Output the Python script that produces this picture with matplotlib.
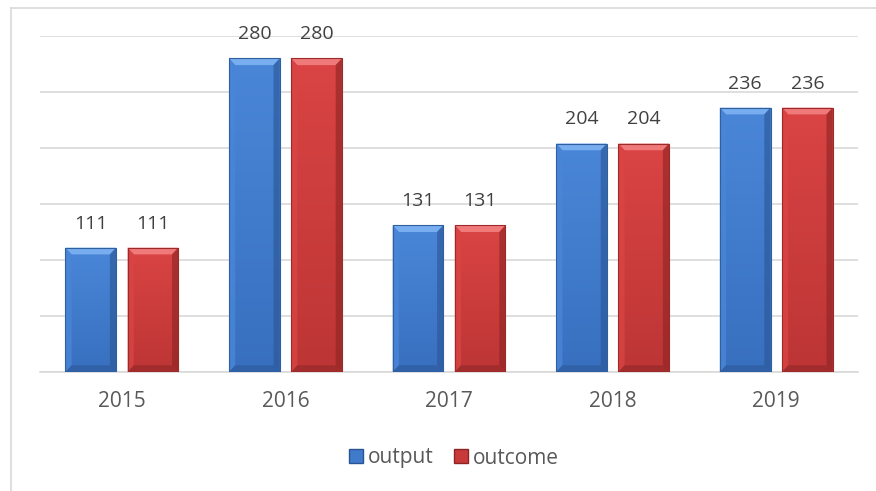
import numpy as np
import matplotlib
matplotlib.use('Agg')
import matplotlib.pyplot as plt
from matplotlib.patches import Polygon, Rectangle, Patch
from matplotlib.colors import LinearSegmentedColormap

years = ['2015', '2016', '2017', '2018', '2019']
output_vals = [111, 280, 131, 204, 236]
outcome_vals = [111, 280, 131, 204, 236]

plt.rcParams['font.family'] = ['Open Sans', 'DejaVu Sans']

fig = plt.figure(figsize=(8.76, 4.91), dpi=100)
ax = fig.add_axes([0.0457, 0.2424, 0.9338, 0.6843])

# outer chart frame (cut off at right and bottom in the screenshot)
fig.add_artist(plt.Line2D([11 / 876, 1.0], [1 - 8 / 491] * 2, color='#d9d9d9', lw=1.2))
fig.add_artist(plt.Line2D([11 / 876] * 2, [0.0, 1 - 8 / 491], color='#d9d9d9', lw=1.2))

x = np.arange(len(years))
w = 0.31
off = 0.19

styles = {
    'output': dict(top='#4a86d8', bot='#3870bf', light='#78aef0', dark='#2a5594', edge='#2f5f9f'),
    'outcome': dict(top='#da4444', bot='#bd3535', light='#f07a7a', dark='#8c2424', edge='#9c2a2a'),
}


def bevel_bar(xc, h, st):
    x0, x1 = xc - w / 2, xc + w / 2
    bx, by = 0.038, 6.0
    rect = Rectangle((x0, 0), w, h, facecolor=st['top'], edgecolor='none', zorder=3)
    ax.add_patch(rect)
    cmap = LinearSegmentedColormap.from_list('g', [st['bot'], st['top']])
    grad = np.linspace(0, 1, 64).reshape(-1, 1)
    im = ax.imshow(grad, extent=[x0, x1, 0, h], origin='lower', aspect='auto',
                   cmap=cmap, zorder=3.1)
    im.set_clip_path(rect)
    # top bevel (light)
    ax.add_patch(Polygon([(x0, h), (x1, h), (x1 - bx, h - by), (x0 + bx, h - by)],
                         closed=True, facecolor=st['light'], edgecolor='none', zorder=3.2))
    # left bevel
    ax.add_patch(Polygon([(x0, h), (x0 + bx, h - by), (x0 + bx, by), (x0, 0)],
                         closed=True, facecolor=st['top'], edgecolor='none', alpha=0.8, zorder=3.2))
    # right bevel (dark)
    ax.add_patch(Polygon([(x1, h), (x1 - bx, h - by), (x1 - bx, by), (x1, 0)],
                         closed=True, facecolor=st['dark'], edgecolor='none', alpha=0.6, zorder=3.2))
    # bottom bevel
    ax.add_patch(Polygon([(x0, 0), (x1, 0), (x1 - bx, by), (x0 + bx, by)],
                         closed=True, facecolor=st['dark'], edgecolor='none', alpha=0.55, zorder=3.2))
    ax.add_patch(Rectangle((x0, 0), w, h, facecolor='none', edgecolor=st['edge'],
                           lw=0.8, zorder=3.3))
    ax.text(xc, h + 17, str(h), ha='center', va='baseline', fontsize=14, color='#404040', zorder=4)


for i in range(len(years)):
    bevel_bar(x[i] - off, output_vals[i], styles['output'])
    bevel_bar(x[i] + off, outcome_vals[i], styles['outcome'])

ax.set_xlim(-0.5, len(years) - 0.5)
ax.set_ylim(0, 300)
ax.set_yticks(np.arange(0, 301, 50))
ax.yaxis.grid(True, color='#d9d9d9', lw=1.2)
ax.set_axisbelow(True)
ax.tick_params(axis='y', left=False, labelleft=False)
ax.set_xticks(x)
ax.set_xticklabels(years, fontsize=15, color='#595959')
ax.tick_params(axis='x', length=0, pad=14)
for s in ['top', 'right', 'left']:
    ax.spines[s].set_visible(False)
ax.spines['bottom'].set_color('#d9d9d9')
ax.spines['bottom'].set_linewidth(1.2)

handles = [Patch(facecolor='#3f7acb', edgecolor='#2a5594', label='output'),
           Patch(facecolor='#c83a3a', edgecolor='#8c2424', label='outcome')]
fig.legend(handles=handles, loc='center', bbox_to_anchor=(454 / 876, 1 - 458 / 491),
           ncol=2, frameon=False, fontsize=15, handlelength=0.65, handleheight=0.65,
           handletextpad=0.25, columnspacing=1.0, labelcolor='#595959')

fig.savefig('out.png', dpi=100)
